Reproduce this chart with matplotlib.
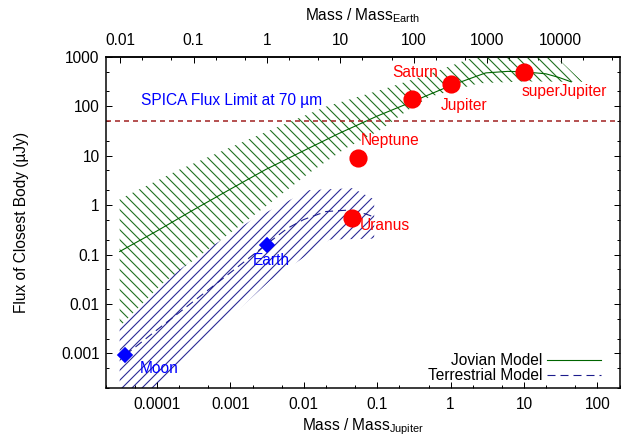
import matplotlib
matplotlib.use("Agg")
import matplotlib.pyplot as plt
from matplotlib import ticker
import numpy as np

DPI = 120


def px(v):
    # pixels -> points at the output dpi
    return v * 72.0 / DPI


plt.rcParams['font.family'] = ['Liberation Sans', 'DejaVu Sans']
plt.rcParams['mathtext.fontset'] = 'custom'
plt.rcParams['mathtext.rm'] = 'Liberation Sans'
plt.rcParams['hatch.linewidth'] = px(1.1)
plt.rcParams['lines.scale_dashes'] = False

# --- data (mass in Jupiter masses, flux in micro-Jansky) ---
EARTH_PER_JUPITER = 317.8
SPICA_LIMIT = 50

JOV_MASS = [3.1e-5, 1e-4, 3e-4, 1e-3, 3e-3, 1e-2, 3e-2, 0.1, 0.3, 1, 3, 6, 10, 20, 30, 44]
JOV_FLUX = [0.115, 0.30, 0.77, 2.1, 5.2, 12.6, 28, 63, 123, 260, 470, 505, 495, 450, 380, 310]

JOV_UP_MASS = [3.1e-5, 1.95e-4, 2e-3, 0.02, 0.145, 0.56, 1.6, 4, 20, 32, 63]
JOV_UP_FLUX = [1.32, 5.1, 23, 98, 240, 470, 850, 1260, 1260, 800, 310]
JOV_LO_MASS = [3.1e-5, 1.15e-4, 3e-3, 0.0117, 0.037, 0.107, 0.28, 0.52, 2.45, 10, 63]
JOV_LO_FLUX = [0.0035, 0.025, 0.93, 4.4, 14, 32, 89, 155, 290, 316, 310]

TER_MASS = [3.7e-5, 1e-4, 3e-4, 1e-3, 3e-3, 6e-3, 0.01, 0.02, 0.04, 0.07, 0.09]
TER_FLUX = [0.00093, 0.0030, 0.0107, 0.043, 0.155, 0.34, 0.51, 0.74, 0.79, 0.66, 0.575]

TER_UP_MASS = [3.1e-5, 8.9e-5, 3.7e-4, 1.95e-3, 0.0117, 0.046, 0.091]
TER_UP_FLUX = [0.0044, 0.019, 0.098, 0.50, 2.0, 2.2, 1.3]
TER_LO_MASS = [3.1e-5, 8.9e-5, 3.5e-3, 0.0224, 0.091]
TER_LO_FLUX = [5e-5, 2e-4, 0.030, 0.20, 0.21]

ROCKY_NAMES = ["Moon", "Earth"]
ROCKY_MASS = [3.69e-5, 3.146e-3]
ROCKY_FLUX = [0.00092, 0.155]

GIANT_NAMES = ["Uranus", "Neptune", "Saturn", "Jupiter", "superJupiter"]
GIANT_MASS = [0.0457, 0.0539, 0.299, 1.0, 10.0]
GIANT_FLUX = [0.56, 8.8, 139, 281, 497]

# label offsets in pixels (dx, dy) from each body
ROCKY_OFFSETS = [(15, -13), (-14, -15)]
GIANT_OFFSETS = [(8, -8), (3, 18), (-20, 27), (-10, -22), (-2, -20)]

GREEN = '#006400'
GREEN_H = '#1f6f1f'
NAVY = '#1c1c8c'
NAVY_H = '#2a2a96'
FS = px(15.5)

fig = plt.figure(figsize=(621 / DPI, 437 / DPI), dpi=DPI)
ax = fig.add_axes([105.7 / 621, 49 / 437, 513.8 / 621, 331.3 / 437])
ax.set_xscale('log')
ax.set_yscale('log')
ax.set_xlim(2e-5, 200)
ax.set_ylim(2e-4, 1000)

# model bands (hatched, ~10 px line spacing)
ax.fill(np.r_[JOV_UP_MASS, JOV_LO_MASS[::-1]], np.r_[JOV_UP_FLUX, JOV_LO_FLUX[::-1]],
        facecolor='none', edgecolor=GREEN_H, linewidth=0, hatch='\\\\\\\\')
ax.fill(np.r_[TER_UP_MASS, TER_LO_MASS[::-1]], np.r_[TER_UP_FLUX, TER_LO_FLUX[::-1]],
        facecolor='none', edgecolor=NAVY_H, linewidth=0, hatch='////')

jov_line, = ax.plot(JOV_MASS, JOV_FLUX, color=GREEN, lw=px(1.1))
ter_line, = ax.plot(TER_MASS, TER_FLUX, color=NAVY, lw=px(1.1), dashes=(px(8), px(5)))

ax.axhline(SPICA_LIMIT, color='#a52a2a', lw=px(1.6), dashes=(px(5), px(4)))
ax.text(0.068, 0.867, "SPICA Flux Limit at 70 \u00b5m", transform=ax.transAxes,
        color='#0000ff', fontsize=FS, va='center', ha='left')

ax.plot(ROCKY_MASS, ROCKY_FLUX, 'D', color='#0000ff', ms=px(9.4), zorder=5)
ax.plot(GIANT_MASS, GIANT_FLUX, 'o', color='#ff0000', ms=px(16.5), zorder=5)

for name, m, f, off in zip(ROCKY_NAMES, ROCKY_MASS, ROCKY_FLUX, ROCKY_OFFSETS):
    ax.annotate(name, (m, f), xytext=off, textcoords='offset pixels',
                color='#0000ff', fontsize=FS, ha='left', va='center', zorder=6)
for name, m, f, off in zip(GIANT_NAMES, GIANT_MASS, GIANT_FLUX, GIANT_OFFSETS):
    ax.annotate(name, (m, f), xytext=off, textcoords='offset pixels',
                color='#ff0000', fontsize=FS, ha='left', va='center', zorder=6)

# axes styling, gnuplot-like inward ticks
for sp in ax.spines.values():
    sp.set_linewidth(px(1.5))
ax.xaxis.set_major_locator(ticker.LogLocator(base=10, numticks=20))
ax.xaxis.set_minor_locator(ticker.LogLocator(base=10, subs=(2, 5), numticks=20))
ax.yaxis.set_major_locator(ticker.LogLocator(base=10, numticks=20))
ax.yaxis.set_minor_locator(ticker.LogLocator(base=10, subs=(2, 5), numticks=20))
ax.xaxis.set_major_formatter(ticker.FormatStrFormatter('%g'))
ax.yaxis.set_major_formatter(ticker.FormatStrFormatter('%g'))
ax.xaxis.set_minor_formatter(ticker.NullFormatter())
ax.yaxis.set_minor_formatter(ticker.NullFormatter())
ax.tick_params(which='both', direction='in', top=False, right=True,
               labelsize=FS, width=px(1))
ax.tick_params(which='major', length=px(6))
ax.tick_params(which='minor', length=px(3))
ax.tick_params(axis='x', pad=px(9))
ax.tick_params(axis='y', pad=px(6))

secax = ax.secondary_xaxis('top', functions=(lambda m: m * EARTH_PER_JUPITER,
                                             lambda e: e / EARTH_PER_JUPITER))
secax.xaxis.set_major_locator(ticker.LogLocator(base=10, numticks=20))
secax.xaxis.set_minor_locator(ticker.LogLocator(base=10, subs=(2, 5), numticks=20))
secax.xaxis.set_major_formatter(ticker.FormatStrFormatter('%g'))
secax.xaxis.set_minor_formatter(ticker.NullFormatter())
secax.tick_params(which='both', direction='in', labelsize=FS, width=px(1), pad=px(9))
secax.tick_params(which='major', length=px(6))
secax.tick_params(which='minor', length=px(3))
secax.spines['top'].set_linewidth(px(1.5))

ax.set_xlabel(r'Mass / Mass$_{\mathrm{Jupiter}}$', fontsize=FS, va='baseline')
ax.xaxis.set_label_coords(0.5, -0.127)
secax.set_xlabel(r'Mass / Mass$_{\mathrm{Earth}}$', fontsize=FS, va='baseline')
secax.xaxis.set_label_coords(0.5, 1.1108, transform=ax.transAxes)
ax.set_ylabel("Flux of Closest Body (\u00b5Jy)", fontsize=FS, va='center', ha='center')
ax.yaxis.set_label_coords(-0.163, 0.5)

ax.legend([jov_line, ter_line], ["Jovian Model", "Terrestrial Model"],
          loc='lower right', bbox_to_anchor=(0.964, 0.015), frameon=False,
          markerfirst=False, fontsize=FS, handlelength=3.48, handletextpad=0.32,
          labelspacing=0.0, borderpad=0, borderaxespad=0)

fig.savefig("out.png", dpi=DPI)
